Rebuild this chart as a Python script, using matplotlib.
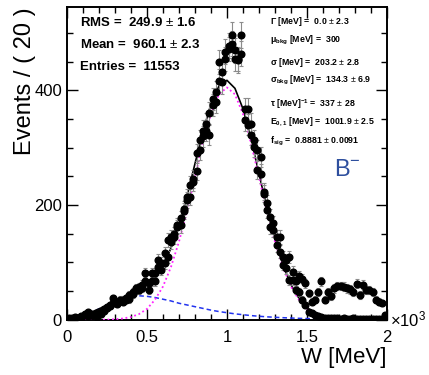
import numpy as np
import matplotlib
matplotlib.use("Agg")
import matplotlib.pyplot as plt
from matplotlib.ticker import MultipleLocator

plt.rcParams["font.family"] = ["Liberation Sans", "DejaVu Sans"]
plt.rcParams["mathtext.fontset"] = "custom"
plt.rcParams["mathtext.rm"] = "Liberation Sans"
plt.rcParams["mathtext.it"] = "Liberation Sans:italic"
plt.rcParams["mathtext.bf"] = "Liberation Sans:bold"
plt.rcParams["mathtext.default"] = "bf"

# bin centres (x 10^3 MeV), 20 MeV bins
bin_centres = [0.01 + 0.02 * i for i in range(100)]

# data set 1 (events per bin)
counts_a = [
    2, 3, 2, 4, 6, 8, 13, 9, 9, 5,
    14, 19, 21, 26, 29, 31, 35, 35, 35, 43,
    49, 55, 52, 61, 67, 52, 82, 81, 93, 99,
    116, 110, 136, 145, 162, 177, 194, 214, 235, 246,
    290, 313, 330, 342, 360, 385, 397, 417, 432, 455,
    472, 481, 455, 452, 464, 368, 340, 322, 301, 261,
    255, 220, 191, 162, 157, 130, 119, 96, 90, 70,
    70, 52, 49, 35, 26, 14, 12, 8, 6, 5,
    4, 4, 3, 3, 4, 2, 3, 2, 2, 3,
    1, 2, 1, 2, 1, 1, 2, 1, 1, 1,
]

# data set 2 (events per bin)
counts_b = [
    4, 2, 5, 3, 4, 10, 7, 11, 8, 12,
    11, 16, 22, 24, 38, 27, 33, 32, 38, 36,
    45, 52, 57, 56, 82, 64, 67, 67, 104, 87,
    99, 139, 145, 150, 165, 165, 190, 209, 214, 240,
    260, 296, 320, 330, 322, 374, 380, 449, 414, 467,
    478, 496, 470, 455, 496, 348, 368, 342, 313, 296,
    284, 223, 203, 180, 168, 145, 145, 110, 104, 110,
    84, 67, 77, 72, 64, 46, 32, 35, 48, 67,
    35, 48, 41, 55, 59, 59, 58, 55, 53, 49,
    63, 43, 61, 52, 52, 48, 35, 32, 29, 9,
]

curve_x = [0.05 * i for i in range(41)]
sig_curve = [
    0, 0, 0, 0.1, 0.2, 0.4, 1.1, 2.4, 5, 10,
    19, 35, 58, 92, 136, 189, 249, 308, 359, 393,
    405, 393, 359, 308, 249, 189, 136, 92, 58, 35,
    19, 10, 5, 2.4, 1.1, 0.4, 0.2, 0, 0, 0, 0,
]
bkg_curve = [
    1, 3, 7, 13, 19, 25, 30, 35, 39, 42,
    41, 39, 36, 33, 29, 26, 23, 20, 17, 14.5,
    12.5, 10.5, 9, 7.5, 6.3, 5.3, 4.5, 3.8, 3.2, 2.7,
    2.3, 2.0, 1.7, 1.5, 1.3, 1.1, 1.0, 0.9, 0.8, 0.7, 0.6,
]
total_curve = [s + b for s, b in zip(sig_curve, bkg_curve)]

PM = "$\\mathrm{\\pm}$"
stats_text = ["RMS =  249.9 " + PM + " 1.6",
              "Mean =  960.1 " + PM + " 2.3",
              "Entries =  11553"]
fit_text = [
    "$\\Gamma$ [MeV] =  0.0 " + PM + " 2.3",
    "$\\mu_{bkg}$ [MeV] =  300",
    "$\\sigma$ [MeV] =  203.2 " + PM + " 2.8",
    "$\\sigma_{bkg}$ [MeV] =  134.3 " + PM + " 6.9",
    "$\\tau$ [MeV]$^{-1}$ =  337 " + PM + " 28",
    "E$_{0,1}$ [MeV] =  1001.9 " + PM + " 2.5",
    "f$_{sig}$ =  0.8881 " + PM + " 0.0091",
]

fig = plt.figure(figsize=(4.29, 3.75), dpi=100)
ax = fig.add_axes([0.156, 0.147, 0.746, 0.834])

ax.plot(curve_x, bkg_curve, color="#2233ee", lw=1.1, ls=(0, (3, 2)), zorder=2)
ax.plot(curve_x, total_curve, color="black", lw=1.2, zorder=2)
ax.plot(curve_x, sig_curve, color="#ff22ff", lw=1.3, ls=(0, (1, 1.5)), zorder=3)

for counts in (counts_a, counts_b):
    y = np.array(counts, dtype=float)
    ax.errorbar(bin_centres, y, yerr=np.sqrt(y), fmt="o", color="black",
                ms=4.8, ecolor="#8c8c8c", elinewidth=0.8, capsize=1.6,
                capthick=0.8, zorder=4)

ax.set_xlim(0, 2)
ax.set_ylim(0, 545)
ax.xaxis.set_major_locator(MultipleLocator(0.5))
ax.xaxis.set_minor_locator(MultipleLocator(0.1))
ax.yaxis.set_major_locator(MultipleLocator(200))
ax.yaxis.set_minor_locator(MultipleLocator(50))
ax.set_xticks([0, 0.5, 1, 1.5, 2])
ax.set_xticklabels(["0", "0.5", "1", "1.5", "2"])
ax.tick_params(which="both", direction="in", top=True, right=True,
               labelsize=12, width=1.0)
ax.tick_params(which="major", length=8)
ax.tick_params(axis="x", which="major", pad=7)
ax.tick_params(which="minor", length=4)
for s in ax.spines.values():
    s.set_linewidth(1.4)

ax.set_ylabel("Events / ( 20 )", fontsize=17, loc="top", labelpad=-1)
ax.set_xlabel("W [MeV]", fontsize=16, loc="right", labelpad=2)
ax.text(1.01, 0.0, "$\\mathrm{\\times 10^{3}}$", transform=ax.transAxes,
        fontsize=12, ha="left", va="center")

stats_y = [0.952, 0.879, 0.808]
for t, yy in zip(stats_text, stats_y):
    ax.text(0.04, yy, t, transform=ax.transAxes, fontsize=9.5,
            fontweight="bold", va="center")
fit_y = [0.955, 0.895, 0.824, 0.767, 0.69, 0.633, 0.569]
for t, yy in zip(fit_text, fit_y):
    ax.text(0.635, yy, t, transform=ax.transAxes, fontsize=6.3,
            fontweight="bold", va="center")

ax.text(0.878, 0.479, "$\\mathrm{B^{-}}$", transform=ax.transAxes,
        fontsize=17, color="#2e4f9e", ha="center", va="center")

fig.savefig("out.png", dpi=100)
